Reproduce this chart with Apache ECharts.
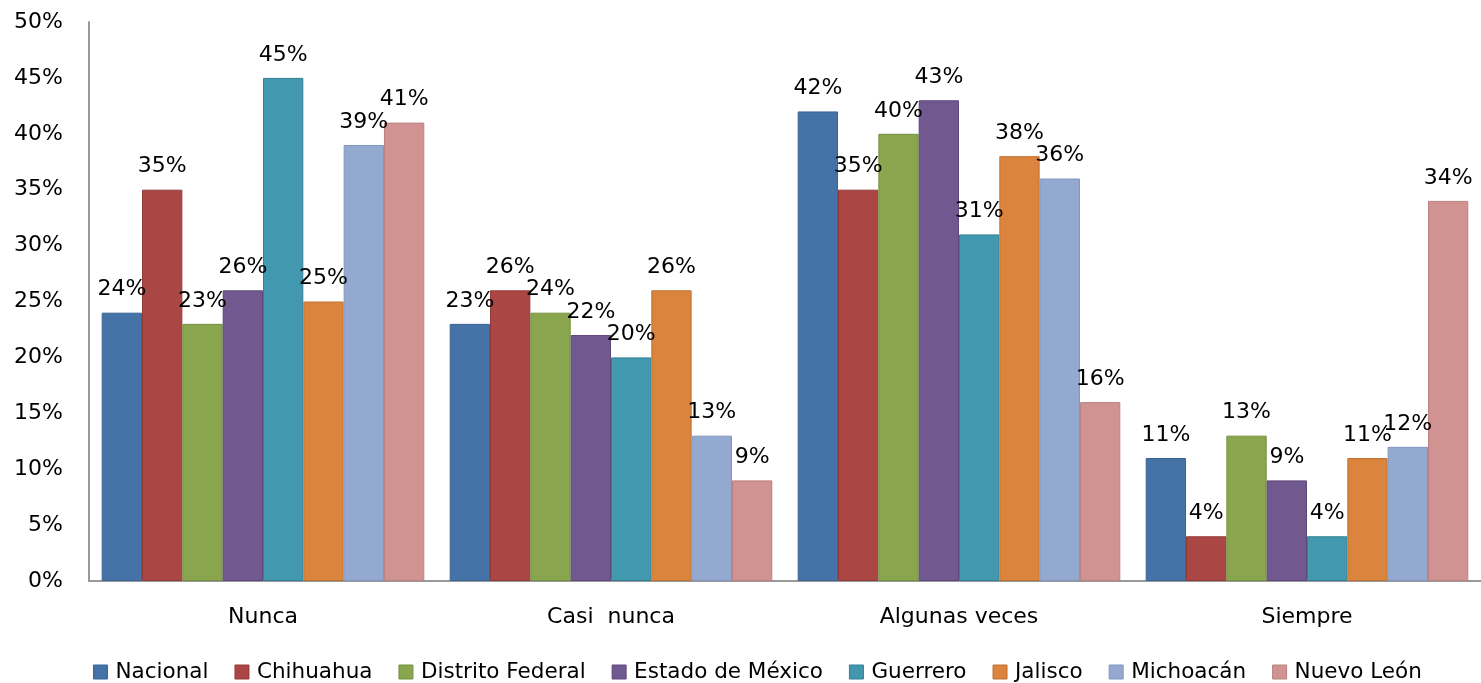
<!DOCTYPE html>
<html><head><meta charset="utf-8">
<script src="https://cdn.jsdelivr.net/npm/echarts@6/dist/echarts.min.js"></script>
<style>html,body{margin:0;padding:0;background:#fff}#c{width:1481px;height:683px}</style>
</head><body><div id="c"></div>
<script>
const categories = ['Nunca', 'Casi  nunca', 'Algunas veces', 'Siempre'];
const seriesNames = ['Nacional', 'Chihuahua', 'Distrito Federal', 'Estado de México', 'Guerrero', 'Jalisco', 'Michoacán', 'Nuevo León'];
const nacional = [24, 23, 42, 11];
const chihuahua = [35, 26, 35, 4];
const distritoFederal = [23, 24, 40, 13];
const estadoMexico = [26, 22, 43, 9];
const guerrero = [45, 20, 31, 4];
const jalisco = [25, 26, 38, 11];
const michoacan = [39, 13, 36, 12];
const nuevoLeon = [41, 9, 16, 34];
const yTicks = {min: 0, max: 50, interval: 5};

const values = [nacional, chihuahua, distritoFederal, estadoMexico, guerrero, jalisco, michoacan, nuevoLeon];
const colors = ['#4572A7', '#AA4643', '#89A54E', '#71588F', '#4198AF', '#DB843D', '#93A9CF', '#D19392'];
const borders = ['#3A6394', '#933B38', '#75903F', '#5E4879', '#357F93', '#BF7233', '#8097BC', '#B98281'];
const font = 'DejaVu Sans';

const chart = echarts.init(document.getElementById('c'));
chart.setOption({
  animation: false,
  textStyle: {fontFamily: font},
  color: colors,
  grid: {left: 89, right: 0, top: 22, bottom: 102},
  legend: {
    top: 656, left: 88,
    itemWidth: 14, itemHeight: 14, itemGap: 26,
    textStyle: {fontSize: 21.5, color: '#000', fontFamily: font, padding: [0, 0, 0, 3]},
    data: seriesNames.map((n, i) => ({name: n, icon: 'rect', itemStyle: {borderColor: borders[i], borderWidth: 1}}))
  },
  xAxis: {
    type: 'category', data: categories,
    axisLine: {lineStyle: {color: '#999', width: 2}},
    axisTick: {show: false},
    axisLabel: {fontSize: 22, color: '#000', margin: 25, fontFamily: font}
  },
  yAxis: {
    type: 'value', min: yTicks.min, max: yTicks.max, interval: yTicks.interval,
    splitLine: {show: false},
    axisLine: {show: true, lineStyle: {color: '#999', width: 2}},
    axisTick: {show: false},
    axisLabel: {fontSize: 22, color: '#000', margin: 26, fontFamily: font, formatter: '{value}%'}
  },
  series: seriesNames.map((n, i) => ({
    name: n, type: 'bar', data: values[i],
    barGap: '0%', barCategoryGap: '7.3%',
    itemStyle: {color: colors[i], borderColor: borders[i], borderWidth: 1},
    label: {show: true, position: 'top', distance: 12, fontSize: 22, color: '#000', fontFamily: font, formatter: '{c}%'}
  }))
});
</script></body></html>
